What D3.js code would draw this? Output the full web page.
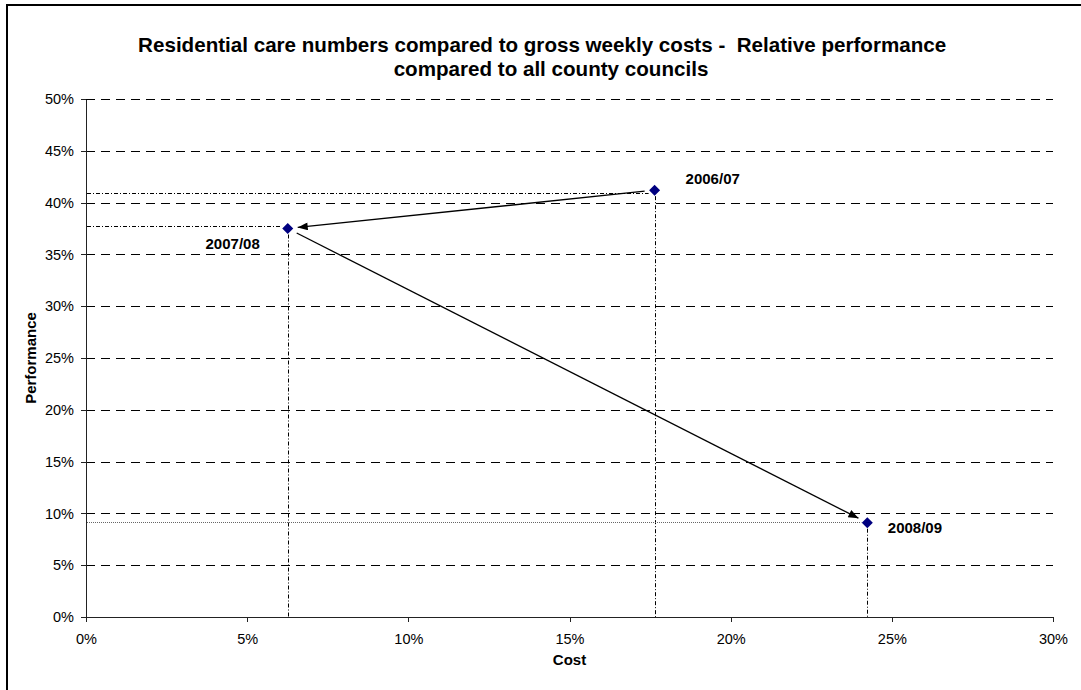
<!DOCTYPE html>
<html>
<head>
<meta charset="utf-8">
<script src="https://cdn.jsdelivr.net/npm/d3@7"></script>
<style>
  html, body { margin: 0; padding: 0; background: #fff; }
  svg { display: block; font-family: "Liberation Sans", Arial, sans-serif; }
</style>
</head>
<body>
<svg id="chart" width="1081" height="690"></svg>
<script>
// Year labels and their relative cost / performance (percent)
const periods = ["2006/07", "2007/08", "2008/09"];
const cost = [17.64, 6.26, 24.24];
const performance = [41.2, 37.5, 9.1];
// Level at which each horizontal reference line is drawn (percent)
const guidePerformance = [40.9, 37.7, 9.2];

const xTicks = [0, 5, 10, 15, 20, 25, 30];
const yTicks = [0, 5, 10, 15, 20, 25, 30, 35, 40, 45, 50];

const titleLines = [
  "Residential care numbers compared to gross weekly costs -  Relative performance ",
  "compared to all county councils"
];

const svg = d3.select("#chart");

// Outer chart frame (top and left edges fall inside the page)
svg.append("path")
  .attr("d", "M7,700 L7,5 L1100,5")
  .attr("fill", "none")
  .attr("stroke", "#000")
  .attr("stroke-width", 2);

const plot = { left: 86, right: 1053, top: 99, bottom: 617 };

const x = d3.scaleLinear().domain([0, 30]).range([plot.left, plot.right]);
const y = d3.scaleLinear().domain([0, 50]).range([plot.bottom, plot.top]);

// Title
const titleX = [545, 551];
svg.append("g")
  .selectAll("text")
  .data(titleLines)
  .join("text")
  .attr("x", (d, i) => titleX[i])
  .attr("y", (d, i) => 52 + i * 24)
  .attr("text-anchor", "middle")
  .attr("font-size", "20.6px")
  .attr("font-weight", "bold")
  .attr("fill", "#000")
  .style("white-space", "pre")
  .text(d => d);

// Dashed horizontal gridlines
svg.append("g")
  .selectAll("line")
  .data(yTicks.filter(d => d > 0))
  .join("line")
  .attr("x1", plot.left)
  .attr("x2", plot.right)
  .attr("y1", d => Math.round(y(d)) + 0.5)
  .attr("y2", d => Math.round(y(d)) + 0.5)
  .attr("stroke", "#000")
  .attr("stroke-width", 1)
  .attr("stroke-dasharray", "9,6");

// Axes
const fmt = d => d + "%";
const xAxis = svg.append("g")
  .attr("transform", `translate(0,${plot.bottom})`)
  .call(d3.axisBottom(x).tickValues(xTicks).tickFormat(fmt).tickSize(5).tickPadding(12).tickSizeOuter(0));
const yAxis = svg.append("g")
  .attr("transform", `translate(${plot.left},0)`)
  .call(d3.axisLeft(y).tickValues(yTicks).tickFormat(fmt).tickSize(5).tickPadding(7).tickSizeOuter(0));

[xAxis, yAxis].forEach(g => {
  g.selectAll("path, line").attr("stroke", "#222").attr("shape-rendering", "crispEdges");
  g.selectAll("text")
    .attr("font-size", "14.5px")
    .attr("fill", "#000")
    .attr("font-family", "Liberation Sans, Arial, sans-serif");
});

// Axis titles
svg.append("text")
  .attr("x", (plot.left + plot.right) / 2)
  .attr("y", 665)
  .attr("text-anchor", "middle")
  .attr("font-size", "15px")
  .attr("font-weight", "bold")
  .text("Cost");

svg.append("text")
  .attr("transform", `translate(35.5,${(plot.top + plot.bottom) / 2}) rotate(-90)`)
  .attr("text-anchor", "middle")
  .attr("font-size", "15px")
  .attr("font-weight", "bold")
  .text("Performance");

const points = periods.map((p, i) => ({
  period: p,
  cost: cost[i],
  perf: performance[i],
  guide: guidePerformance[i]
}));

// Reference lines from each point back to the axes
const guides = svg.append("g").attr("fill", "none").attr("stroke", "#000").attr("stroke-width", 1);
points.forEach((d, i) => {
  const px = x(d.cost), py = y(d.perf);
  const gy = Math.round(y(d.guide)) + 0.5;
  guides.append("line")
    .attr("x1", plot.left + 1).attr("x2", px - 6)
    .attr("y1", gy).attr("y2", gy)
    .attr("stroke", i === 2 ? "#666" : "#000")
    .attr("stroke-dasharray", i === 2 ? "1,1" : "4,2,1,2");
  const vx = Math.round(px) + 0.5;
  guides.append("line")
    .attr("x1", vx).attr("x2", vx)
    .attr("y1", py + 6).attr("y2", plot.bottom)
    .attr("stroke-dasharray", "4,2,1,2");
});

// Arrowhead
svg.append("defs").append("marker")
  .attr("id", "arrowhead")
  .attr("viewBox", "0 0 10 8")
  .attr("refX", 10)
  .attr("refY", 4)
  .attr("markerUnits", "userSpaceOnUse")
  .attr("markerWidth", 11)
  .attr("markerHeight", 8)
  .attr("orient", "auto")
  .append("path")
  .attr("d", "M0,0 L10,4 L0,8 Z")
  .attr("fill", "#000");

// Arrows joining consecutive years
const trim = 10;
const arrows = svg.append("g");
d3.pairs(points).forEach(([a, b]) => {
  const x1 = x(a.cost), y1 = y(a.perf), x2 = x(b.cost), y2 = y(b.perf);
  const len = Math.hypot(x2 - x1, y2 - y1);
  const ux = (x2 - x1) / len, uy = (y2 - y1) / len;
  arrows.append("line")
    .attr("x1", x1 + ux * trim).attr("y1", y1 + uy * trim)
    .attr("x2", x2 - ux * trim).attr("y2", y2 - uy * trim)
    .attr("stroke", "#000")
    .attr("stroke-width", 1.3)
    .attr("marker-end", "url(#arrowhead)");
});

// Diamond markers
const r = 5.5;
svg.append("g")
  .selectAll("path")
  .data(points)
  .join("path")
  .attr("transform", d => `translate(${x(d.cost)},${y(d.perf)})`)
  .attr("d", `M0,${-r} L${r},0 L0,${r} L${-r},0 Z`)
  .attr("fill", "#000080");

// Year labels
const labelOffset = [
  { dx: 31, dy: -6.5, anchor: "start" },
  { dx: -28, dy: 20, anchor: "end" },
  { dx: 20.5, dy: 10.5, anchor: "start" }
];
svg.append("g")
  .selectAll("text")
  .data(points)
  .join("text")
  .attr("x", (d, i) => x(d.cost) + labelOffset[i].dx)
  .attr("y", (d, i) => y(d.perf) + labelOffset[i].dy)
  .attr("text-anchor", (d, i) => labelOffset[i].anchor)
  .attr("font-size", "15px")
  .attr("font-weight", "bold")
  .attr("fill", "#000")
  .text(d => d.period);
</script>
</body>
</html>
